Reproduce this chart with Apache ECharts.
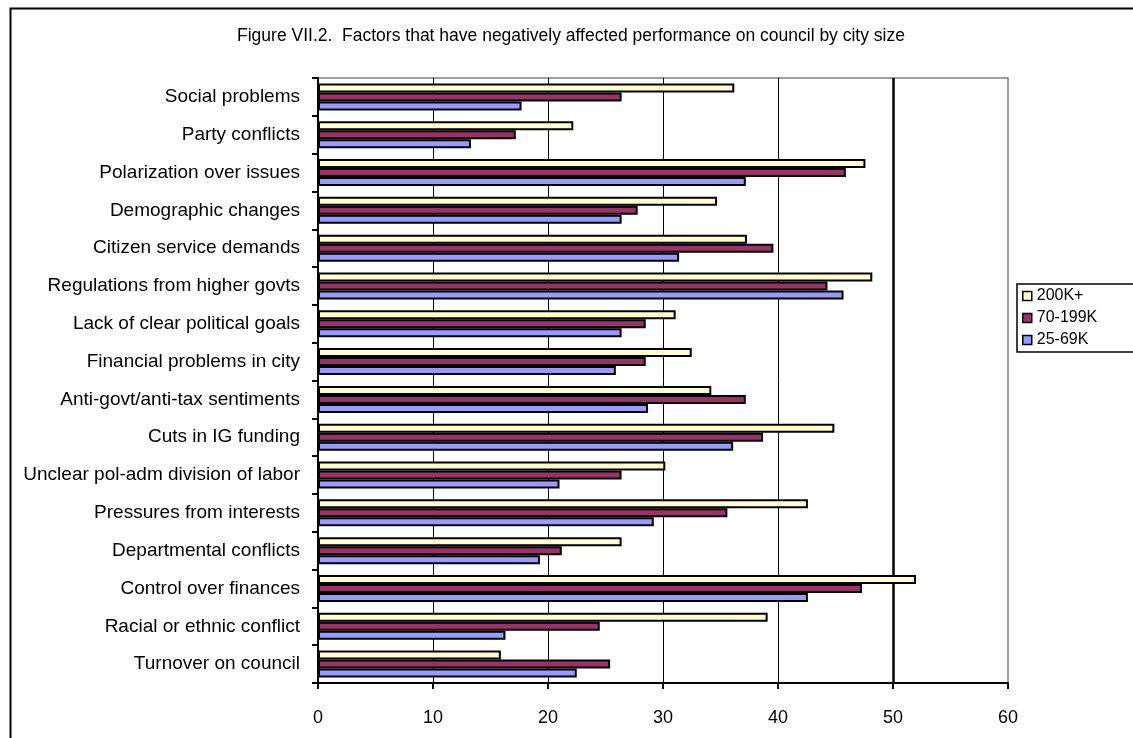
<!DOCTYPE html>
<html>
<head>
<meta charset="utf-8">
<title>Factors that have negatively affected performance on council by city size</title>
<script src="https://cdn.jsdelivr.net/npm/echarts@6/dist/echarts.min.js"></script>
<style>
  html, body { margin: 0; padding: 0; background: #ffffff; }
  #chart { width: 1133px; height: 738px; }
</style>
</head>
<body>
<div id="chart"></div>
<script>
// Factors, listed top to bottom as they appear on the chart
const categories = [
  'Social problems',
  'Party conflicts',
  'Polarization over issues',
  'Demographic changes',
  'Citizen service demands',
  'Regulations from higher govts',
  'Lack of clear political goals',
  'Financial problems in city',
  'Anti-govt/anti-tax sentiments',
  'Cuts in IG funding',
  'Unclear pol-adm division of labor',
  'Pressures from interests',
  'Departmental conflicts',
  'Control over finances',
  'Racial or ethnic conflict',
  'Turnover on council'
];

const seriesNames = ['200K+', '70-199K', '25-69K'];

// Percent of respondents, by city size
const city200kPlus = [36.2, 22.2, 47.6, 34.7, 37.3, 48.2, 31.1, 32.5, 34.2, 44.9, 30.2, 42.6, 26.4, 52.0, 39.1, 15.9];
const city70to199k = [26.4, 17.2, 45.9, 27.8, 39.6, 44.3, 28.5, 28.5, 37.2, 38.7, 26.4, 35.6, 21.2, 47.3, 24.5, 25.4];
const city25to69k  = [17.7, 13.3, 37.2, 26.4, 31.4, 45.7, 26.4, 25.9, 28.7, 36.1, 21.0, 29.2, 19.3, 42.6, 16.3, 22.5];

// Value axis range and the emphasised reference line
const axisMin = 0;
const axisMax = 60;
const axisStep = 10;
const referenceValue = 50;

const seriesColors = ['#FFFFCC', '#993366', '#9999FF'];
const FONT = '"Liberation Sans", Arial, Helvetica, sans-serif';

const chart = echarts.init(document.getElementById('chart'), null, { renderer: 'canvas' });

const seriesData = [city200kPlus, city70to199k, city25to69k];

const series = seriesNames.map((name, i) => {
  const s = {
    name: name,
    type: 'bar',
    data: seriesData[i],
    barWidth: 9,
    barGap: '0%',
    itemStyle: {
      color: seriesColors[i],
      borderColor: '#000000',
      borderWidth: 2
    },
    emphasis: { disabled: true },
    z: 3
  };
  if (i === 0) {
    s.markLine = {
      silent: true,
      z: 1,
      symbol: ['none', 'none'],
      label: { show: false },
      lineStyle: { color: '#000000', width: 2.5, type: 'solid' },
      data: [{ xAxis: referenceValue }]
    };
  }
  return s;
});

const option = {
  backgroundColor: '#ffffff',
  animation: false,
  textStyle: { fontFamily: FONT },
  title: {
    text: 'Figure VII.2.  Factors that have negatively affected performance on council by city size',
    left: 566,
    textAlign: 'center',
    top: 22,
    textStyle: {
      fontFamily: FONT,
      fontSize: 17.5,
      fontWeight: 'normal',
      color: '#000000'
    }
  },
  legend: {
    orient: 'vertical',
    left: 1017,
    top: 284,
    icon: 'rect',
    itemWidth: 9,
    itemHeight: 9,
    itemGap: 4,
    padding: [3, 60, 3, 5],
    backgroundColor: '#ffffff',
    borderColor: '#000000',
    borderWidth: 1.5,
    borderRadius: 0,
    selectedMode: false,
    itemStyle: { borderColor: '#000000', borderWidth: 1.5 },
    textStyle: {
      fontFamily: FONT,
      fontSize: 16,
      lineHeight: 18,
      color: '#000000'
    },
    data: seriesNames
  },
  grid: {
    left: 318,
    top: 78,
    width: 690,
    height: 605,
    show: true,
    backgroundColor: '#ffffff',
    borderColor: '#808080',
    borderWidth: 1.5,
    containLabel: false
  },
  xAxis: {
    type: 'value',
    min: axisMin,
    max: axisMax,
    interval: axisStep,
    axisLine: { show: true, lineStyle: { color: '#000000', width: 2 } },
    axisTick: { show: true, inside: false, length: 6, lineStyle: { color: '#000000', width: 2 } },
    axisLabel: {
      fontFamily: FONT,
      fontSize: 18,
      color: '#000000',
      margin: 26
    },
    splitLine: {
      show: true,
      showMinLine: false,
      showMaxLine: false,
      lineStyle: { color: '#000000', width: 1 }
    }
  },
  yAxis: {
    type: 'category',
    inverse: true,
    data: categories,
    axisLine: { show: true, lineStyle: { color: '#000000', width: 2 } },
    axisTick: { show: true, inside: false, length: 6, lineStyle: { color: '#000000', width: 2 } },
    axisLabel: {
      fontFamily: FONT,
      fontSize: 19,
      color: '#000000',
      margin: 18
    },
    splitLine: { show: false }
  },
  graphic: [
    {
      type: 'rect',
      left: 8,
      top: 6,
      shape: { x: 0, y: 0, width: 1200, height: 800 },
      style: { fill: 'none', stroke: '#000000', lineWidth: 2 },
      silent: true,
      z: 100
    }
  ],
  series: series
};

chart.setOption(option);
</script>
</body>
</html>
